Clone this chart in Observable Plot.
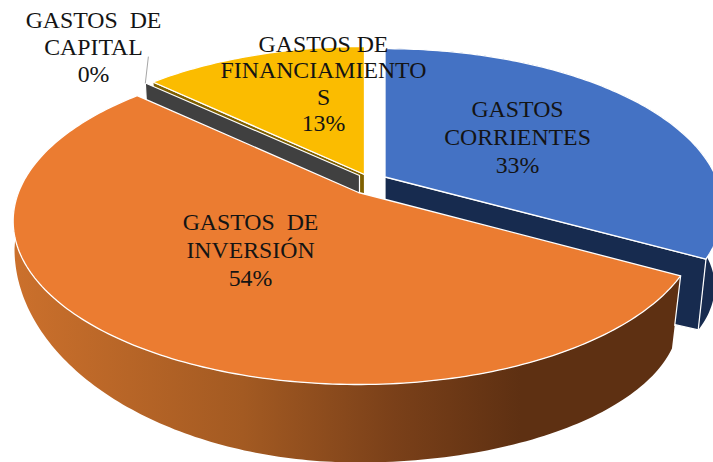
<!DOCTYPE html>
<html><head><meta charset="utf-8">
<script src="https://cdn.jsdelivr.net/npm/d3@7"></script>
<script src="https://cdn.jsdelivr.net/npm/@observablehq/plot@0.6"></script>
<style>html,body{margin:0;padding:0;background:#fff;overflow:hidden}svg{display:block}</style>
</head><body><div id="chart"></div>
<script>
const categories = ["GASTOS CORRIENTES","GASTOS DE INVERSIÓN","GASTOS DE CAPITAL","GASTOS DE FINANCIAMIENTO"];
const labelTexts = ["GASTOS\nCORRIENTES\n33%","GASTOS\u00a0 DE\nINVERSIÓN\n54%","GASTOS\u00a0 DE\nCAPITAL\n0%","GASTOS DE\nFINANCIAMIENTO\nS\n13%"];
const shares = [33,54,0,13];

// layout (not data): exploded apex and projection of each slice, label centres
const apexX = [384.5,358,359,364], apexY = [176.5,192,175,174];
const topRight = [331,336.6,331,331], topLeft = [331,340,334,330];
const topB = [154,158.4,153.6,153.6], topP = [0.2,0.175,0.2,0.2];
const lowRA = [323,306,306,306], lowRB = [133,131.6,131.6,131.6], lowRP = [0.2,0.3,0.3,0.3], lowRD = [82,82,82,82];
const lowLA = [323,344,327,323], lowLB = [133,214,150,150], lowLP = [0.2,0,0.2,0.2], lowLD = [82,56,82,82];
const labelX = [517,250,93,323], labelY = [136,249,46,82.5];

const turn = d3.sum(shares);
let acc = 0;
const slices = shares.map((v,i)=>{const a0=acc/turn*360; acc+=v; return {i,a0,a1:acc/turn*360,ax:apexX[i],ay:apexY[i]};});
function rim(s,deg,low){
  const t=deg*Math.PI/180, x=Math.sin(t), y=-Math.cos(t), i=s.i, right=x>=0;
  const P=low?(right?lowRP:lowLP)[i]:topP[i], B=low?(right?lowRB:lowLB)[i]:topB[i];
  const A=low?(right?lowRA:lowLA)[i]:(right?topRight:topLeft)[i];
  const D=low?(right?lowRD:lowLD)[i]:0, w=1-P*y;
  return [s.ax+A*x/w, s.ay+D+B*y/w];
}
const arc=(s,from,to,low)=>{const n=Math.max(2,Math.ceil(Math.abs(to-from)));return d3.range(n+1).map(j=>rim(s,from+(to-from)*j/n,low));};
const apex=(s,low)=>[s.ax,s.ay+(low?lowRD[s.i]:0)];
const poly=(pts,fill,stroke,sw)=>Plot.line(pts,{x:d=>d[0],y:d=>d[1],curve:"linear-closed",fill,stroke:stroke||"none",strokeWidth:sw||0});
const face=(s,fill)=>poly([apex(s),...arc(s,s.a0,s.a1)],fill,"#fff",1.3);
const wall=(s,deg,fill,stroke)=>poly([apex(s),rim(s,deg),rim(s,deg,true),apex(s,true)],fill,stroke,stroke?1.2:0);
const outer=(s,fill,to=s.a1)=>poly([...arc(s,s.a0,to),...arc(s,to,s.a0,true)],fill);
const [blue,orange,capital,yellow]=slices;

const gradient=()=>{
  const d=d3.create("svg:defs");
  const g=d.append("linearGradient").attr("id","side").attr("gradientUnits","userSpaceOnUse").attr("x1",15).attr("x2",520).attr("y1",0).attr("y2",0);
  [[0,"#cb702c"],[.45,"#a35a22"],[.75,"#7a4019"],[1,"#5e3012"]].forEach(([o,c])=>g.append("stop").attr("offset",o).attr("stop-color",c));
  return d.node();
};
const rc=rim(capital,capital.a0);
const oc=rim(orange,orange.a0), ocLow=rim(orange,orange.a0,true);
const labelRows=labelTexts.map((t,i)=>({t,x:labelX[i],y:labelY[i],c:categories[i]}));
const textOpts={x:"x",y:"y",text:"t",fontFamily:"Liberation Serif",fontSize:23.8,fill:"#141414",textAnchor:"middle"};

const chart=Plot.plot({
  width:713,height:462,margin:0,
  x:{domain:[0,713],range:[0,713],axis:null},
  y:{domain:[0,462],range:[0,462],axis:null},
  marks:[
    gradient,
    outer(blue,"#172b4f"),
    wall(blue,blue.a0,"#172b4f"),
    wall(blue,blue.a1,"#172b4f","#fff"),
    face(blue,"#4472c4"),
    wall(yellow,yellow.a0,"#7f6000","#fff"),
    face(yellow,"#fbbc00"),
    wall(capital,capital.a0,"#404040","#fff"),
    outer(orange,"url(#side)",270),
    Plot.line([oc,[oc[0]+(ocLow[0]-oc[0])*0.68,oc[1]+(ocLow[1]-oc[1])*0.68]],{x:d=>d[0],y:d=>d[1],stroke:"#fff",strokeWidth:1.2}),
    face(orange,"#eb7c31"),
    Plot.line([rc,[rc[0]+3,rc[1]-26]],{x:d=>d[0],y:d=>d[1],stroke:"#a6a6a6",strokeWidth:1}),
    Plot.text(labelRows.filter(d=>d.y>100),{...textOpts,lineHeight:1.176}),
    Plot.text(labelRows.filter(d=>d.y<100),{...textOpts,lineHeight:1.118})
  ]
});
document.getElementById("chart").append(chart);
</script></body></html>
